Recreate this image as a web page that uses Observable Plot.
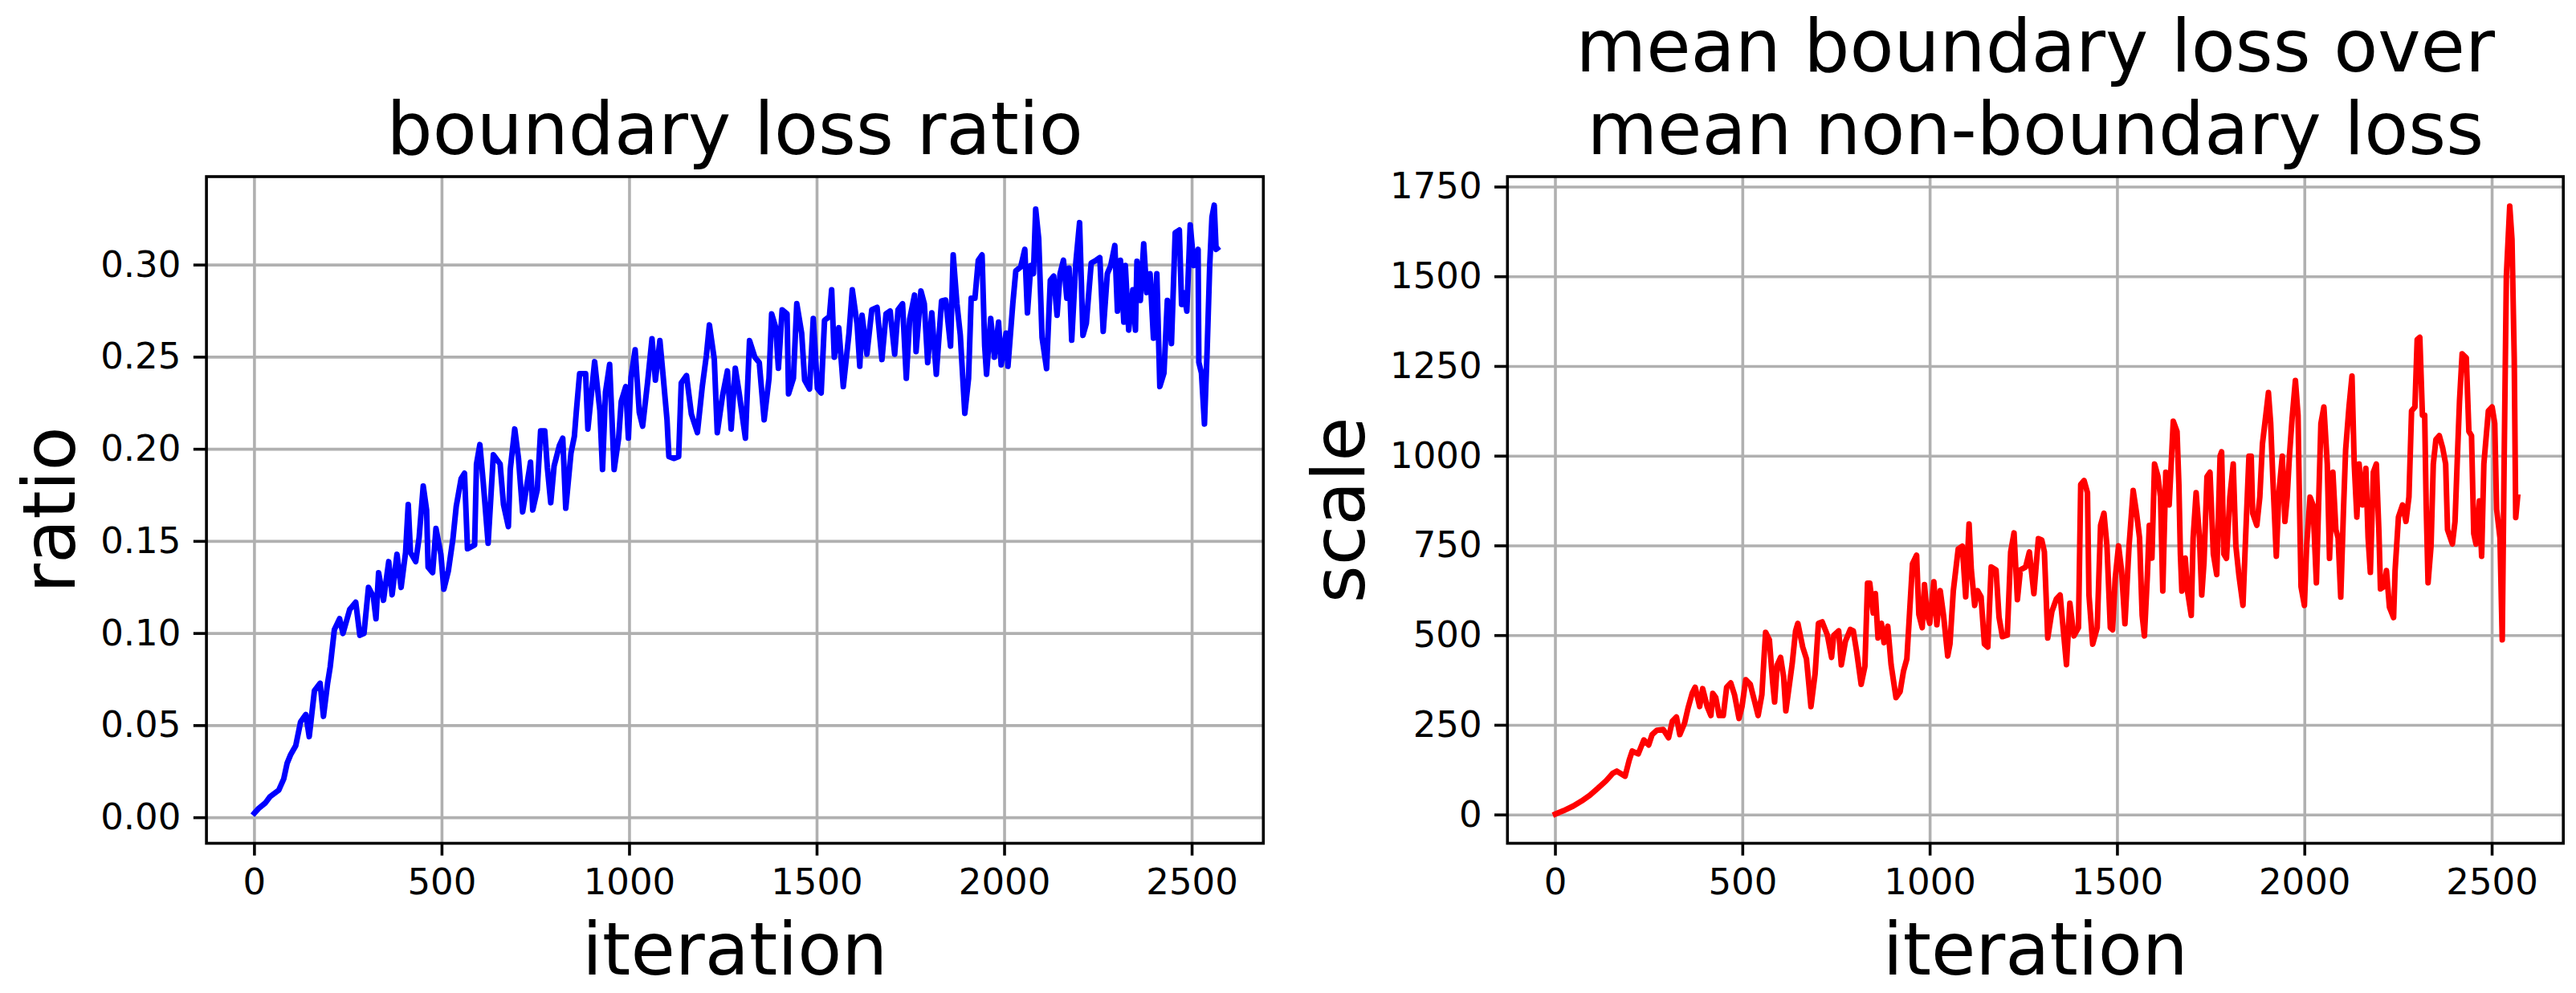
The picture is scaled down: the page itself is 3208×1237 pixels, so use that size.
<!DOCTYPE html>
<html>
<head>
<meta charset="utf-8">
<script src="https://cdn.jsdelivr.net/npm/d3@7"></script>
<script src="https://cdn.jsdelivr.net/npm/@observablehq/plot@0.6"></script>
<style>
  html, body { margin: 0; padding: 0; background: white; }
  #c { display: flex; width: 3208px; height: 1237px; overflow: hidden; }
</style>
</head>
<body>
<div id="c"></div>
<script>
const xTicks = [0, 500, 1000, 1500, 2000, 2500];
const ratioTicks = [0, 0.05, 0.10, 0.15, 0.20, 0.25, 0.30];
const scaleTicks = [0, 250, 500, 750, 1000, 1250, 1500, 1750];

const ratioIter = [
  0,11,29,42,65,78,87,96,110,123,
  137,146,160,175,184,195,202,213,227,236,
  254,270,281,292,304,317,324,331,344,358,
  367,380,391,403,410,416,430,439,450,459,
  463,475,484,497,505,517,529,538,551,560,
  568,587,592,601,610,623,637,655,664,677,
  682,694,704,715,736,742,754,763,774,781,
  790,799,813,822,830,844,853,858,867,883,
  889,907,921,928,936,947,959,971,978,990,
  997,1004,1015,1026,1035,1048,1060,1069,1081,1090,
  1100,1105,1119,1131,1138,1152,1165,1181,1194,1205,
  1213,1226,1234,1248,1261,1271,1282,1292,1309,1320,
  1334,1346,1359,1372,1379,1390,1397,1407,1420,1424,
  1437,1446,1459,1467,1480,1490,1501,1511,1520,1533,
  1539,1546,1558,1570,1585,1594,1607,1614,1620,1633,
  1646,1660,1673,1684,1695,1707,1716,1728,1738,1747,
  1760,1764,1777,1786,1795,1806,1818,1832,1843,1856,
  1863,1873,1882,1894,1904,1911,1921,1930,1940,1947,
  1952,1963,1973,1984,1991,2004,2009,2022,2030,2043,
  2054,2061,2070,2077,2083,2091,2100,2112,2122,2131,
  2140,2148,2157,2166,2172,2179,2190,2200,2209,2218,
  2231,2244,2254,2263,2274,2283,2294,2301,2309,2318,
  2322,2331,2342,2349,2353,2362,2371,2379,2388,2397,
  2406,2414,2425,2434,2445,2455,2466,2472,2478,2486,
  2495,2505,2516,2518,2525,2533,2540,2547,2553,2559,
  2564,2567
];
const ratioValue = [
  0.0025,0.005,0.008,0.0115,0.015,0.021,0.0295,0.034,0.039,0.052,
  0.056,0.044,0.069,0.073,0.055,0.073,0.082,0.102,0.108,0.100,
  0.113,0.117,0.099,0.100,0.125,0.120,0.108,0.133,0.118,0.139,
  0.121,0.143,0.125,0.144,0.170,0.144,0.139,0.152,0.180,0.167,
  0.136,0.133,0.157,0.143,0.124,0.134,0.151,0.169,0.184,0.187,
  0.146,0.148,0.192,0.2025,0.182,0.149,0.197,0.192,0.170,0.158,
  0.189,0.211,0.195,0.166,0.193,0.167,0.178,0.210,0.210,0.190,
  0.171,0.191,0.202,0.206,0.168,0.198,0.207,0.220,0.241,0.241,
  0.211,0.2475,0.221,0.189,0.231,0.246,0.189,0.206,0.226,0.234,
  0.206,0.239,0.254,0.220,0.2125,0.236,0.260,0.2375,0.259,0.239,
  0.216,0.196,0.195,0.196,0.236,0.240,0.219,0.209,0.234,0.251,
  0.2675,0.249,0.209,0.229,0.2425,0.211,0.244,0.231,0.206,0.259,
  0.250,0.247,0.216,0.2385,0.2735,0.266,0.244,0.2757,0.2735,0.230,
  0.2385,0.279,0.263,0.2375,0.2327,0.271,0.233,0.2305,0.270,0.272,
  0.2866,0.250,0.266,0.234,0.2625,0.2866,0.2676,0.245,0.2727,0.2516,
  0.2757,0.277,0.2487,0.2735,0.275,0.2516,0.2757,0.279,0.2385,0.2706,
  0.2837,0.253,0.2859,0.279,0.247,0.274,0.2407,0.2805,0.281,0.256,
  0.3055,0.279,0.262,0.2195,0.2385,0.282,0.282,0.3026,0.3055,0.256,
  0.2407,0.271,0.250,0.269,0.2458,0.263,0.245,0.279,0.2968,0.299,
  0.3085,0.274,0.2997,0.2953,0.3303,0.3143,0.2606,0.2438,0.2917,0.294,
  0.2727,0.2953,0.3026,0.282,0.2983,0.2592,0.3012,0.323,0.2618,0.2683,
  0.301,0.3026,0.304,0.264,0.2953,0.2997,0.3106,0.275,0.3026,0.269,
  0.2997,0.2647,0.2866,0.2647,0.302,0.2808,0.3115,0.285,0.2953,0.2603,
  0.2953,0.234,0.2414,0.2808,0.2574,0.3175,0.319,0.2786,0.285,0.275,
  0.3218,0.2997,0.3085,0.2472,0.2414,0.2137,0.253,0.2997,0.326,0.3325,
  0.3085,0.309
];

const scaleIter = [
  0,22,48,70,92,114,135,153,164,186,
  197,205,221,236,249,258,271,288,302,312,
  323,332,345,354,365,373,385,393,405,415,
  420,428,437,448,457,468,478,490,498,508,
  520,531,541,551,557,561,571,580,585,592,
  601,609,615,623,632,641,647,660,670,682,
  693,702,712,726,737,743,756,763,774,787,
  795,804,816,826,833,839,848,854,861,870,
  877,887,896,909,920,929,938,944,953,964,
  970,979,985,992,999,1010,1018,1027,1036,1047,
  1053,1062,1075,1086,1095,1104,1110,1119,1127,1136,
  1145,1154,1163,1176,1184,1193,1206,1215,1224,1233,
  1241,1255,1265,1277,1289,1298,1305,1314,1325,1337,
  1347,1354,1364,1373,1384,1396,1402,1411,1420,1424,
  1434,1446,1455,1464,1472,1481,1487,1494,1503,1511,
  1520,1531,1542,1551,1559,1566,1572,1580,1585,1592,
  1599,1608,1615,1621,1629,1638,1644,1649,1659,1664,
  1668,1672,1681,1687,1697,1702,1710,1719,1725,1731,
  1739,1747,1756,1765,1774,1778,1784,1791,1800,1809,
  1816,1824,1835,1842,1851,1857,1861,1872,1880,1887,
  1896,1903,1909,1915,1924,1931,1940,1947,1953,1959,
  1966,1975,1982,1985,1990,1999,2005,2014,2022,2031,
  2043,2051,2060,2066,2075,2083,2089,2096,2103,2109,
  2118,2126,2132,2139,2145,2154,2163,2169,2175,2183,
  2191,2198,2202,2211,2218,2226,2237,2241,2250,2261,
  2270,2278,2285,2294,2300,2307,2314,2320,2324,2329,
  2337,2343,2350,2359,2368,2376,2381,2394,2401,2407,
  2413,2420,2431,2438,2445,2451,2457,2466,2472,2478,
  2490,2500,2507,2512,2521,2527,2532,2538,2547,2553,
  2559,2563,2568
];
const scaleValue = [
  2.5,12,25,39,55,75,95,116,122,108,
  153,178,170,209,195,224,236,238,215,261,
  273,224,257,298,339,356,302,352,302,277,
  339,327,277,277,356,368,335,269,302,377,
  364,319,277,335,443,509,488,368,315,418,
  439,385,290,352,422,513,534,468,435,302,
  393,534,538,501,439,501,513,418,484,517,
  513,455,364,414,646,646,563,617,493,534,
  480,526,418,327,344,401,435,542,700,724,
  559,522,642,559,534,650,530,625,555,443,
  476,625,741,749,608,811,683,584,625,608,
  476,468,691,683,551,497,501,733,786,600,
  683,691,733,617,770,766,733,493,567,602,
  613,533,419,590,499,522,921,932,898,613,
  476,522,807,841,750,522,516,659,750,681,
  533,750,904,841,772,556,499,670,807,716,
  978,944,886,624,955,864,989,1097,1069,921,
  727,624,716,624,556,772,898,772,613,704,
  943,955,727,670,1000,1012,727,715,886,978,
  750,670,584,772,1000,1000,841,807,886,1034,
  1114,1177,1091,932,721,898,1000,818,886,1000,
  1103,1211,1114,921,636,584,750,886,864,647,
  1091,1137,978,715,955,795,772,607,841,1017,
  1137,1223,978,830,978,864,966,772,676,955,
  978,784,630,636,681,579,550,681,830,864,
  818,886,1126,1137,1325,1331,1114,1114,864,647,
  750,978,1046,1057,1023,978,795,755,818,989,
  1154,1285,1274,1069,1057,784,755,875,721,978,
  1126,1137,1091,852,772,488,978,1502,1697,1604,
  1274,829,886
];

function panel({iter, value, color, yDomain, yTicks, yFormat, title, ylabel, marginLeft, marginRight, ylabelDx}) {
  const data = iter.map((x, i) => ({x, y: value[i]}));
  const grid = {stroke: "#b0b0b0", strokeOpacity: 1, strokeWidth: 3.6};
  return Plot.plot({
    width: 1604,
    height: 1237,
    marginLeft,
    marginRight,
    marginTop: 219.5,
    marginBottom: 187,
    style: {fontFamily: "DejaVu Sans", fontSize: "45px", background: "white", color: "black", overflow: "visible"},
    x: {domain: [-128, 2690], label: null},
    y: {domain: yDomain, label: null},
    marks: [
      Plot.gridX(xTicks, grid),
      Plot.gridY(yTicks, grid),
      Plot.line(data, {x: "x", y: "y", stroke: color, strokeWidth: 7, strokeLinejoin: "round", strokeLinecap: "square"}),
      Plot.frame({stroke: "black", strokeWidth: 3.6}),
      Plot.axisX(xTicks, {tickSize: 15.75, tickPadding: 16, strokeWidth: 3.6, tickFormat: d => String(d), label: null, fontSize: 45, fontFamily: "DejaVu Sans"}),
      Plot.axisY(yTicks, {tickSize: 15.75, tickPadding: 16, strokeWidth: 3.6, tickFormat: yFormat, label: null, fontSize: 45, fontFamily: "DejaVu Sans"}),
      Plot.text([title], {text: d => d, frameAnchor: "top", dy: -28, lineAnchor: "bottom", lineHeight: 1.14, fontSize: 90, fontFamily: "DejaVu Sans", fill: "black"}),
      Plot.text(["iteration"], {text: d => d, frameAnchor: "bottom", dy: 163, lineAnchor: "bottom", fontSize: 90, fontFamily: "DejaVu Sans", fill: "black"}),
      Plot.text([ylabel], {text: d => d, frameAnchor: "left", dx: ylabelDx, rotate: -90, lineAnchor: "bottom", textAnchor: "middle", fontSize: 90, fontFamily: "DejaVu Sans", fill: "black"})
    ]
  });
}

const c = document.getElementById("c");
c.appendChild(panel({
  iter: ratioIter, value: ratioValue, color: "#0000ff",
  yDomain: [-0.0139, 0.348], yTicks: ratioTicks, yFormat: d3.format(".2f"),
  title: "boundary loss ratio", ylabel: "ratio",
  marginLeft: 256.6, marginRight: 31.2, ylabelDx: -164.6
}));
c.appendChild(panel({
  iter: scaleIter, value: scaleValue, color: "#ff0000",
  yDomain: [-79, 1779], yTicks: scaleTicks, yFormat: d => String(d),
  title: "mean boundary loss over\nmean non-boundary loss", ylabel: "scale",
  marginLeft: 272.8, marginRight: 16.3, ylabelDx: -178.8
}));
</script>
</body>
</html>
